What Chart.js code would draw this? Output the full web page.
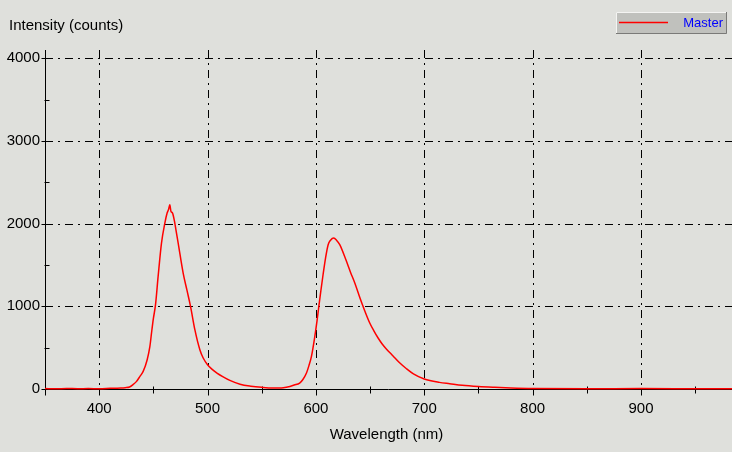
<!DOCTYPE html>
<html>
<head>
<meta charset="utf-8">
<script src="https://cdn.jsdelivr.net/npm/chart.js@4/dist/chart.umd.min.js"></script>
<style>
  html, body { margin: 0; padding: 0; background: #dfe0dc; }
  #wrap { width: 732px; height: 452px; position: relative; }
</style>
</head>
<body>
<div id="wrap"><canvas id="spec"></canvas></div>
<script>
// 光譜資料
const wavelengths = [350, 360, 370, 380, 390, 400, 410, 415, 420, 424, 428, 431, 434.5, 437.5, 440.6, 444.3, 446.8, 448.3, 450, 452,
  454.4, 457.5, 460.6, 462.7, 464, 465.2, 466.2, 467.7, 469.8, 470.8, 472.9, 477.5, 481, 484.3, 488.3, 492.9, 496, 500, 504, 508.7,
  514, 520.6, 530, 540, 550, 560, 570, 576, 580, 585, 588, 591.3, 593.5, 595.9, 599, 601, 602.7, 604.5, 606.6, 608.9,
  611.3, 613.5, 616.5, 619, 622, 627.6, 632, 635.9, 639.5, 643.5, 649.7, 653.5, 657.4, 661, 665, 671.2, 677, 683.6, 690, 700, 714,
  723.5, 735, 750, 765, 780, 800, 850, 900, 950, 984];
const intensity = [5, 3, 6, 4, 5, 4, 8, 10, 12, 16, 24, 50, 92, 150, 213, 354, 515, 677, 850, 1020,
  1362, 1765, 2007, 2128, 2170, 2228, 2150, 2128, 2007, 1927, 1765, 1402, 1195, 1000, 717, 475, 375, 294, 240, 193,
  150, 104, 58, 34, 20, 12, 16, 31, 48, 72, 115, 193, 280, 394, 636, 820, 1000, 1180, 1382, 1584,
  1745, 1800, 1826, 1800, 1745, 1565, 1410, 1282, 1145, 1000, 798, 703, 617, 548, 485, 400, 320, 245, 183, 121, 80,
  64, 45, 30, 20, 12, 6, 4, 5, 3, 2];
const xTicks = [400, 500, 600, 700, 800, 900];
const xMinor = [450, 550, 650, 750, 850, 950];
const yTicks = [0, 1000, 2000, 3000, 4000];
const yMinor = [500, 1500, 2500, 3500];
const seriesName = 'Master';

const FONT = '"Liberation Sans", Arial, sans-serif';
const DASH = [8, 5, 2, 5];

// 格線、座標軸、刻度、標題與圖例
const decor = {
  id: 'decor',
  beforeDatasetsDraw(chart) {
    const { ctx, chartArea: a, scales: { x, y } } = chart;
    ctx.save();
    ctx.strokeStyle = '#000';
    ctx.lineWidth = 1;
    ctx.setLineDash(DASH);
    xTicks.forEach(v => {
      const px = Math.round(x.getPixelForValue(v)) + 0.5;
      ctx.beginPath(); ctx.moveTo(px, a.top); ctx.lineTo(px, a.bottom); ctx.stroke();
    });
    yTicks.slice(1).forEach(v => {
      const py = Math.round(y.getPixelForValue(v)) + 0.5;
      ctx.beginPath(); ctx.moveTo(a.left, py); ctx.lineTo(a.right, py); ctx.stroke();
    });
    ctx.setLineDash([]);
    const x0 = Math.round(a.left) + 0.5, y0 = Math.round(a.bottom) + 0.5;
    ctx.beginPath(); ctx.moveTo(x0, a.top); ctx.lineTo(x0, y0 + 6); ctx.stroke();
    ctx.beginPath(); ctx.moveTo(a.left, y0); ctx.lineTo(a.right, y0); ctx.stroke();
    xTicks.forEach(v => {
      const px = Math.round(x.getPixelForValue(v)) + 0.5;
      ctx.beginPath(); ctx.moveTo(px, y0); ctx.lineTo(px, y0 + 6); ctx.stroke();
    });
    xMinor.forEach(v => {
      const px = Math.round(x.getPixelForValue(v)) + 0.5;
      ctx.beginPath(); ctx.moveTo(px, y0 - 3); ctx.lineTo(px, y0 + 4); ctx.stroke();
    });
    yTicks.forEach(v => {
      const py = Math.round(y.getPixelForValue(v)) + 0.5;
      ctx.beginPath(); ctx.moveTo(x0 - 4, py); ctx.lineTo(x0 + 5, py); ctx.stroke();
    });
    yMinor.forEach(v => {
      const py = Math.round(y.getPixelForValue(v)) + 0.5;
      ctx.beginPath(); ctx.moveTo(x0 - 1, py); ctx.lineTo(x0 + 4, py); ctx.stroke();
    });
    ctx.restore();
  },
  afterDraw(chart) {
    const { ctx, chartArea: a } = chart;
    ctx.save();
    ctx.fillStyle = '#000';
    ctx.font = '15px ' + FONT;
    ctx.textBaseline = 'middle';
    ctx.textAlign = 'left';
    ctx.fillText('Intensity (counts)', 9, 26);
    ctx.textAlign = 'center';
    ctx.fillText('Wavelength (nm)', (a.left + a.right) / 2 - 2, 435);
    // 圖例方塊
    const bx = 616, by = 12, bw = 111, bh = 22;
    ctx.fillStyle = '#c0c1bd';
    ctx.fillRect(bx, by, bw, bh);
    ctx.strokeStyle = '#f4f4f2';
    ctx.lineWidth = 1;
    ctx.beginPath(); ctx.moveTo(bx + 0.5, by + bh); ctx.lineTo(bx + 0.5, by + 0.5); ctx.lineTo(bx + bw, by + 0.5); ctx.stroke();
    ctx.strokeStyle = '#7a7a78';
    ctx.beginPath(); ctx.moveTo(bx + bw - 0.5, by); ctx.lineTo(bx + bw - 0.5, by + bh - 0.5); ctx.lineTo(bx, by + bh - 0.5); ctx.stroke();
    const ds = chart.data.datasets[0];
    ctx.strokeStyle = ds.borderColor;
    ctx.lineWidth = 1.5;
    ctx.beginPath(); ctx.moveTo(619, 22.5); ctx.lineTo(668, 22.5); ctx.stroke();
    ctx.fillStyle = '#0000ff';
    ctx.font = '13px ' + FONT;
    ctx.textAlign = 'right';
    ctx.fillText(ds.label, 723, 23);
    ctx.restore();
  }
};

new Chart(document.getElementById('spec'), {
  type: 'line',
  data: {
    datasets: [{
      label: seriesName,
      data: wavelengths.map((w, i) => ({ x: w, y: intensity[i] })),
      borderColor: '#ff0000',
      borderWidth: 1.5,
      pointRadius: 0,
      cubicInterpolationMode: 'monotone',
      clip: 3
    }]
  },
  options: {
    responsive: true,
    maintainAspectRatio: false,
    animation: false,
    layout: { padding: { top: 50, right: 0, left: 0, bottom: 0 } },
    plugins: { legend: { display: false }, tooltip: { enabled: false } },
    scales: {
      x: {
        type: 'linear', min: 350, max: 984,
        afterFit: s => { s.height = 63; },
        afterBuildTicks: s => { s.ticks = xTicks.map(v => ({ value: v })); },
        grid: { display: false, drawTicks: false }, border: { display: false },
        ticks: { color: '#000', padding: 11, maxRotation: 0, font: { family: FONT, size: 15 }, callback: v => String(v) }
      },
      y: {
        min: 0, max: 4100,
        afterFit: s => { s.width = 45; },
        afterBuildTicks: s => { s.ticks = yTicks.map(v => ({ value: v })); },
        grid: { display: false, drawTicks: false }, border: { display: false },
        ticks: { color: '#000', padding: 5, font: { family: FONT, size: 15 }, callback: v => String(v) }
      }
    }
  },
  plugins: [decor]
});
</script>
</body>
</html>
